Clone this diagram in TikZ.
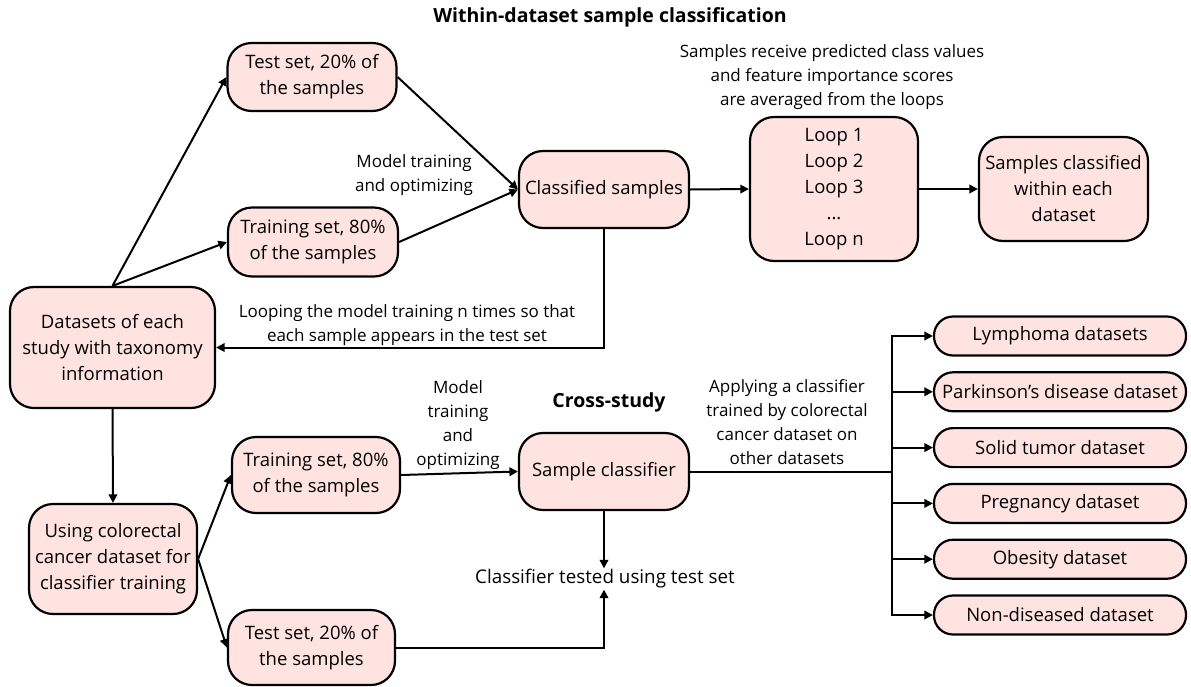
\documentclass[tikz,border=0pt]{standalone}
\usepackage{fontspec}
\setmainfont{Open Sans}
\usetikzlibrary{arrows.meta}
\definecolor{boxpink}{HTML}{FFE3E0}

\begin{document}
\begin{tikzpicture}[x=1pt,y=-1pt,
  box/.style={draw,line width=2.2pt,fill=boxpink,rounded corners=24pt,align=center,
    inner sep=0pt,font=\fontsize{18.5}{26}\selectfont},
  pill/.style={box,rounded corners=19pt,minimum width=252pt,minimum height=39pt},
  lbl/.style={align=center,font=\fontsize{17}{24}\selectfont},
  hdr/.style={font=\fontsize{19.5}{24}\selectfont\bfseries},
  arr/.style={line width=2pt,-{Triangle[length=8.5pt,width=8.5pt]}}]
\useasboundingbox (0,0) rectangle (1191,686);

% within-dataset part
\node[hdr] (title) at (610,17) {Within-dataset sample classification};
\node[box,minimum width=205pt,minimum height=121pt] (datasets) at (112.5,347.5)
  {Datasets of each\\study with taxonomy\\information};
\node[box,minimum width=169pt,minimum height=68pt] (testA) at (312,77) {Test set, 20\% of\\the samples};
\node[box,minimum width=170pt,minimum height=69pt] (trainA) at (313,242) {Training set, 80\%\\of the samples};
\node[box,minimum width=170pt,minimum height=77pt] (classified) at (604,189.5) {Classified samples};
\node[box,minimum width=168pt,minimum height=144pt] (loops) at (834,189)
  {Loop 1\\Loop 2\\Loop 3\\...\\Loop n};
\node[box,minimum width=169pt,minimum height=104pt] (within) at (1063.5,189)
  {Samples classified\\within each\\dataset};

\node[lbl] (trainlbl) at (414,175) {Model training\\and optimizing};
\node[lbl] (looplbl) at (832,77) {Samples receive predicted class values\\and feature importance scores\\are averaged from the loops};
\node[lbl] (backlbl) at (407,325) {Looping the model training n times so that\\each sample appears in the test set};

\draw[arr] (datasets.north) -- (testA.west);
\draw[arr] (datasets.north) -- (trainA.west);
\draw[arr] (testA.east) -- (classified.west);
\draw[arr] (trainA.east) -- (classified.west);
\draw[arr] (classified.east) -- (loops.west);
\draw[arr] (loops.east) -- (within.west);
\draw[arr] (classified.south) |- (datasets.east);

% cross-study part
\node[box,minimum width=168pt,minimum height=110pt] (colorectal) at (113,559)
  {Using colorectal\\cancer dataset for\\classifier training};
\node[box,minimum width=168pt,minimum height=76pt] (trainB) at (316,475) {Training set, 80\%\\of the samples};
\node[box,minimum width=167pt,minimum height=75pt] (testB) at (311.5,647.5) {Test set, 20\% of\\the samples};
\node[box,minimum width=170pt,minimum height=77pt] (sampleclf) at (604,471.5) {Sample classifier};

\node[hdr] (crosslbl) at (609,402) {Cross-study};
\node[lbl] (optlbl) at (458,425) {Model\\training\\and\\optimizing};
\node[lbl] (applylbl) at (787,422) {Applying a classifier\\trained by colorectal\\cancer dataset on\\other datasets};
\node[lbl,font=\fontsize{18.8}{24}\selectfont,inner ysep=1pt] (tested) at (605,579) {Classifier tested using test set};

\foreach \name/\txt [count=\i] in {lym/Lymphoma datasets,park/Parkinson’s disease dataset,
  solid/Solid tumor dataset,preg/Pregnancy dataset,obes/Obesity dataset,nondis/Non-diseased dataset}
  \node[pill] (\name) at (1060,{280.2+55.8*\i}) {\txt};

\draw[arr] (datasets.south) -- (colorectal.north);
\draw[arr] (colorectal.east) -- (trainB.west);
\draw[arr] (colorectal.east) -- (testB.west);
\draw[arr] (trainB.east) -- (sampleclf.west);
\draw[arr] (sampleclf.south) -- (sampleclf.south |- tested.north);
\draw[arr] (testB.east) -| (sampleclf.south |- tested.south);

\coordinate (bus) at (892,471.5);
\draw[line width=2pt] (sampleclf.east) -- (bus);
\foreach \name in {lym,park,solid,preg,obes,nondis}
  \draw[arr] (bus) |- (\name.west);
\end{tikzpicture}
\end{document}
